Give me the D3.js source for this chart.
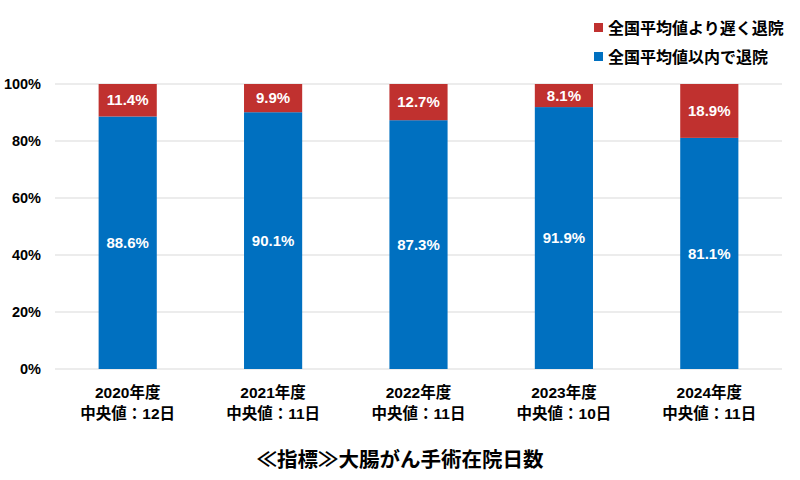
<!DOCTYPE html>
<html>
<head>
<meta charset="utf-8">
<script src="https://cdn.jsdelivr.net/npm/d3@7"></script>
<style>
  body { margin: 0; background: #fff; }
  svg { font-family: "Liberation Sans", Arial, "Noto Sans CJK JP", sans-serif; }
</style>
</head>
<body>
<svg id="chart" width="800" height="480"></svg>
<script>
const years = ["2020年度", "2021年度", "2022年度", "2023年度", "2024年度"];
const medians = ["中央値：12日", "中央値：11日", "中央値：11日", "中央値：10日", "中央値：11日"];
const withinAvg = [88.6, 90.1, 87.3, 91.9, 81.1];
const overAvg = [11.4, 9.9, 12.7, 8.1, 18.9];
const yTicks = [0, 20, 40, 60, 80, 100];
const seriesNames = ["全国平均値より遅く退院", "全国平均値以内で退院"];
const title = "≪指標≫大腸がん手術在院日数";

const blue = "#0070C0";
const red = "#C0312F";

const svg = d3.select("#chart");
const margin = { top: 84, right: 18, bottom: 111, left: 55 };
const width = +svg.attr("width");
const height = +svg.attr("height");

const x = d3
  .scaleBand()
  .domain(years)
  .range([margin.left, width - margin.right])
  .paddingInner(0.6)
  .paddingOuter(0.3);

const y = d3
  .scaleLinear()
  .domain([0, 100])
  .range([height - margin.bottom, margin.top]);

// gridlines
svg
  .append("g")
  .selectAll("line")
  .data(yTicks)
  .join("line")
  .attr("x1", margin.left)
  .attr("x2", width - margin.right)
  .attr("y1", (d) => y(d))
  .attr("y2", (d) => y(d))
  .attr("stroke", "#D9D9D9")
  .attr("stroke-width", 1);

// y tick labels
svg
  .append("g")
  .selectAll("text")
  .data(yTicks)
  .join("text")
  .attr("x", 41)
  .attr("y", (d) => y(d))
  .attr("dy", "0.35em")
  .attr("text-anchor", "end")
  .style("font-size", "14.5px")
  .style("font-weight", "bold")
  .style("fill", "#000")
  .text((d) => d + "%");

const rows = years.map((yr, i) => ({ year: yr, within: withinAvg[i], over: overAvg[i] }));

// blue segments
svg
  .append("g")
  .selectAll("rect")
  .data(rows)
  .join("rect")
  .attr("x", (d) => x(d.year))
  .attr("width", x.bandwidth())
  .attr("y", (d) => y(d.within))
  .attr("height", (d) => y(0) - y(d.within))
  .attr("fill", blue);

// red segments
svg
  .append("g")
  .selectAll("rect")
  .data(rows)
  .join("rect")
  .attr("x", (d) => x(d.year))
  .attr("width", x.bandwidth())
  .attr("y", (d) => y(d.within + d.over))
  .attr("height", (d) => y(d.within) - y(d.within + d.over))
  .attr("fill", red);

// value labels
const labels = svg.append("g")
  .style("font-size", "15px")
  .style("font-weight", "bold")
  .style("fill", "#fff")
  .attr("text-anchor", "middle");

labels
  .selectAll("text.within")
  .data(rows)
  .join("text")
  .attr("class", "within")
  .attr("x", (d) => x(d.year) + x.bandwidth() / 2)
  .attr("y", (d) => y(d.within / 2))
  .attr("dy", "0.35em")
  .text((d) => d.within.toFixed(1) + "%");

labels
  .selectAll("text.over")
  .data(rows)
  .join("text")
  .attr("class", "over")
  .attr("x", (d) => x(d.year) + x.bandwidth() / 2)
  .attr("y", (d) => y(d.within + d.over / 2))
  .attr("dy", "0.35em")
  .text((d) => d.over.toFixed(1) + "%");

// category labels
const cat = svg.append("g")
  .style("font-size", "15.5px")
  .style("font-weight", "bold")
  .style("fill", "#000")
  .attr("text-anchor", "middle");

cat
  .selectAll("text.year")
  .data(years)
  .join("text")
  .attr("class", "year")
  .attr("x", (d) => x(d) + x.bandwidth() / 2)
  .attr("y", 398)
  .text((d) => d);

cat
  .selectAll("text.median")
  .data(years)
  .join("text")
  .attr("class", "median")
  .attr("x", (d) => x(d) + x.bandwidth() / 2)
  .attr("y", 419)
  .text((d, i) => medians[i]);

// title
svg
  .append("text")
  .attr("x", 400)
  .attr("y", 467)
  .attr("text-anchor", "middle")
  .style("font-size", "20.5px")
  .style("font-weight", "bold")
  .style("fill", "#000")
  .text(title);

// legend
const legend = svg
  .append("g")
  .selectAll("g")
  .data(seriesNames)
  .join("g")
  .attr("transform", (d, i) => `translate(594, ${28 + i * 29})`);

legend
  .append("rect")
  .attr("x", 0)
  .attr("y", -5)
  .attr("width", 9)
  .attr("height", 9)
  .attr("fill", (d, i) => (i === 0 ? red : blue));

legend
  .append("text")
  .attr("x", 14)
  .attr("y", 0)
  .attr("dy", "0.35em")
  .style("font-size", "16px")
  .style("font-weight", "bold")
  .style("fill", "#000")
  .text((d) => d);
</script>
</body>
</html>
